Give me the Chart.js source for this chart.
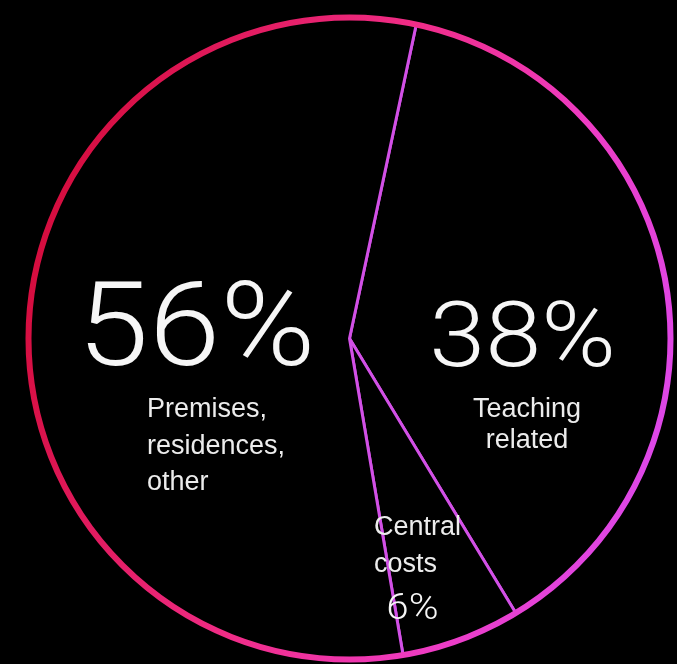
<!DOCTYPE html>
<html>
<head>
<meta charset="utf-8">
<script src="https://cdn.jsdelivr.net/npm/chart.js@4.4.0/dist/chart.umd.min.js"></script>
<style>
  html, body { margin: 0; padding: 0; background: #000; }
  #wrap { width: 677px; height: 664px; }
</style>
</head>
<body>
<div id="wrap"><canvas id="budgetChart"></canvas></div>
<script>
// Slices, clockwise from just right of 12 o'clock
const categories = ['Teaching related', 'Central costs', 'Premises, residences, other'];
const shares = [38, 6, 56];
const labelLines = [['Teaching', 'related'], ['Central', 'costs'], ['Premises,', 'residences,', 'other']];

// Big percentage text + caption text, positioned relative to pie centre (in radius units)
const labelSpots = [
    { pct: { dx: 0.539, dy: 0.086, size: 91, stretch: 1.11 }, cap: { dx: 0.553, dy: 0.245, align: 'center', gap: 31 } },
    { pct: { dx: 0.196, dy: 0.873, size: 36, stretch: 1.12 }, cap: { dx: 0.076, dy: 0.612, align: 'left', gap: 37 } },
    { pct: { dx: -0.477, dy: 0.083, size: 116, stretch: 1.11 }, cap: { dx: -0.631, dy: 0.245, align: 'left', gap: 36.5 } }
];

// Draws the red-to-magenta outer ring and the text labels
const ringAndLabels = {
    id: 'ringAndLabels',
    afterDatasetsDraw(chart) {
        const ctx = chart.ctx;
        const arc = chart.getDatasetMeta(0).data[0];
        if (!arc) return;
        const cx = arc.x, cy = arc.y, r = arc.outerRadius;

        // outer ring
        const grad = ctx.createLinearGradient(cx - r, cy - r * 0.3, cx + r, cy + r * 0.3);
        grad.addColorStop(0, '#d40c3c');
        grad.addColorStop(0.45, '#f02c86');
        grad.addColorStop(0.75, '#ee3cc4');
        grad.addColorStop(1, '#dc48ea');
        ctx.save();
        ctx.beginPath();
        ctx.arc(cx, cy, r, 0, Math.PI * 2);
        ctx.strokeStyle = grad;
        ctx.lineWidth = 6;
        ctx.stroke();

        // labels
        ctx.textBaseline = 'alphabetic';
        shares.forEach((v, i) => {
            const spot = labelSpots[i];
            ctx.save();
            ctx.translate(cx + spot.pct.dx * r, cy + spot.pct.dy * r);
            ctx.scale(spot.pct.stretch, 1);
            ctx.fillStyle = '#f6f6f6';
            ctx.textAlign = 'center';
            ctx.font = '300 ' + spot.pct.size + 'px Roboto, "Liberation Sans", sans-serif';
            ctx.fillText(v + '%', 0, 0);
            ctx.restore();

            ctx.fillStyle = '#ececec';
            ctx.textAlign = spot.cap.align;
            ctx.font = '400 27px "Liberation Sans", Arial, sans-serif';
            labelLines[i].forEach((line, j) => {
                ctx.fillText(line, cx + spot.cap.dx * r, cy + spot.cap.dy * r + j * spot.cap.gap);
            });
        });
        ctx.restore();
    }
};

function initializeBudgetPie() {
    const ctx = document.getElementById('budgetChart');
    if (!ctx) return;

    new Chart(ctx, {
        type: 'pie',
        data: {
            labels: categories,
            datasets: [{
                data: shares,
                backgroundColor: '#000000',
                borderColor: '#d250e6',
                borderWidth: 3,
                hoverOffset: 0
            }]
        },
        options: {
            responsive: true,
            maintainAspectRatio: false,
            animation: false,
            rotation: 12,
            layout: {
                padding: { left: 26, right: 4, top: 16, bottom: 3 }
            },
            plugins: {
                legend: { display: false },
                tooltip: { enabled: false },
                title: { display: false }
            }
        },
        plugins: [ringAndLabels]
    });
}

initializeBudgetPie();
</script>
</body>
</html>
